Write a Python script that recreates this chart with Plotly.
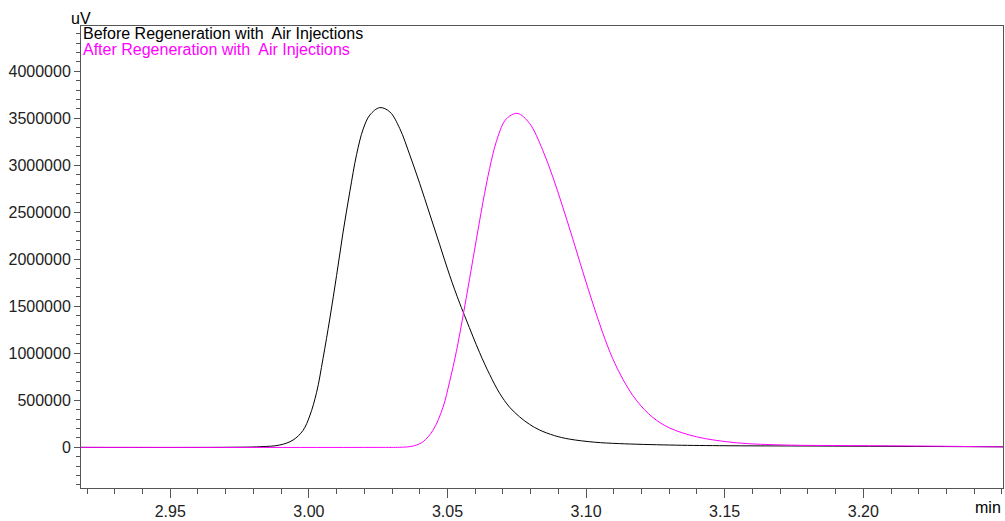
import plotly.graph_objects as go

# Retention time (min) and signal (uV)
before_t = [2.9178, 2.9715, 2.9823, 2.9895, 2.9943, 2.9979, 3.0003, 3.0028, 3.0051, 3.0076,
            3.0100, 3.0123, 3.0148, 3.0172, 3.0196, 3.0220, 3.0256, 3.0292, 3.0328, 3.0364,
            3.0400, 3.0436, 3.0472, 3.0508, 3.0544, 3.0568, 3.0616, 3.0652, 3.0688, 3.0724,
            3.0760, 3.0796, 3.0832, 3.0886, 3.0940, 3.1031, 3.1120, 3.1301, 3.1481, 3.1841,
            3.2504]
before_uv = [0, 1000, 7000, 25000, 78000, 181000, 334000, 586000, 944000, 1376000,
             1828000, 2281000, 2723000, 3113000, 3386000, 3534000, 3613000, 3568000, 3390000, 3110000,
             2805000, 2481000, 2155000, 1828000, 1534000, 1355000, 1007000, 776000, 576000, 428000,
             325000, 245000, 185000, 125000, 88000, 55000, 40000, 25000, 18000, 14000,
             6000]

after_t = [2.9178, 3.0250, 3.0328, 3.0364, 3.0388, 3.0412, 3.0448, 3.0484, 3.0508, 3.0532,
           3.0556, 3.0580, 3.0604, 3.0628, 3.0652, 3.0676, 3.0706, 3.0730, 3.0754, 3.0796,
           3.0843, 3.0880, 3.0916, 3.0952, 3.0988, 3.1024, 3.1060, 3.1096, 3.1133, 3.1181,
           3.1241, 3.1301, 3.1398, 3.1542, 3.1722, 3.1949, 3.2238, 3.2504]
after_uv = [0, 0, 1000, 8000, 25000, 60000, 183000, 428000, 702000, 1018000,
            1397000, 1797000, 2207000, 2607000, 2965000, 3249000, 3470000, 3534000, 3551000, 3446000,
            3165000, 2876000, 2555000, 2218000, 1870000, 1534000, 1218000, 944000, 723000, 502000,
            318000, 207000, 113000, 49000, 25000, 19000, 13000, 5000]

series_names = ["Before Regeneration with  Air Injections", "After Regeneration with  Air Injections"]
x_ticks = [2.95, 3.00, 3.05, 3.10, 3.15, 3.20]
y_ticks = [0, 500000, 1000000, 1500000, 2000000, 2500000, 3000000, 3500000, 4000000]

FONT = "Liberation Sans, Arial, sans-serif"

fig = go.Figure()
fig.add_trace(go.Scatter(x=before_t, y=before_uv, mode="lines", name=series_names[0],
                         line=dict(color="#000000", width=1, shape="spline", smoothing=1)))
fig.add_trace(go.Scatter(x=after_t, y=after_uv, mode="lines", name=series_names[1],
                         line=dict(color="#ff00ff", width=1, shape="spline", smoothing=1)))

fig.update_layout(
    width=1005, height=521,
    margin=dict(l=81, r=1, t=26, b=29),
    paper_bgcolor="white", plot_bgcolor="white",
    showlegend=False,
    font=dict(family=FONT, size=16, color="#000000"),
)
fig.update_xaxes(
    range=[2.9178, 3.2504], tickvals=x_ticks, ticktext=[f"{v:.2f}" for v in x_ticks],
    showgrid=False, zeroline=False, showline=True, linecolor="#555555", linewidth=1, mirror=True,
    ticks="outside", ticklen=9, tickcolor="#555555", tickfont=dict(size=16, color="#222222"),
    minor=dict(dtick=0.01, tick0=2.95, ticks="outside", ticklen=5, tickcolor="#555555", showgrid=False),
)
fig.update_yaxes(
    range=[-432000, 4481000], tickvals=y_ticks, ticktext=[str(v) for v in y_ticks],
    showgrid=False, zeroline=False, showline=True, linecolor="#555555", linewidth=1, mirror=True,
    ticks="outside", ticklen=6, tickcolor="#555555", tickfont=dict(size=16, color="#222222"),
    minor=dict(dtick=100000, tick0=0, ticks="outside", ticklen=4, tickcolor="#555555", showgrid=False),
)

fig.add_annotation(xref="paper", yref="paper", x=0.0, y=1.0, xanchor="left", yanchor="top",
                   text=series_names[0], showarrow=False, font=dict(size=16, color="#000000"),
                   yshift=3)
fig.add_annotation(xref="paper", yref="paper", x=0.0, y=0.972, xanchor="left", yanchor="top",
                   text=series_names[1], showarrow=False, font=dict(size=16, color="#ff00ff"))
fig.add_annotation(xref="paper", yref="paper", x=0.0, y=1.0, xanchor="center", yanchor="bottom",
                   text="uV", showarrow=False, font=dict(size=16, color="#000000"), yshift=-3)
fig.add_annotation(xref="paper", yref="paper", x=1.0, y=0, xanchor="right", yanchor="top",
                   text="min", showarrow=False, font=dict(size=16, color="#000000"), yshift=-9)

fig.write_html("out.html")
